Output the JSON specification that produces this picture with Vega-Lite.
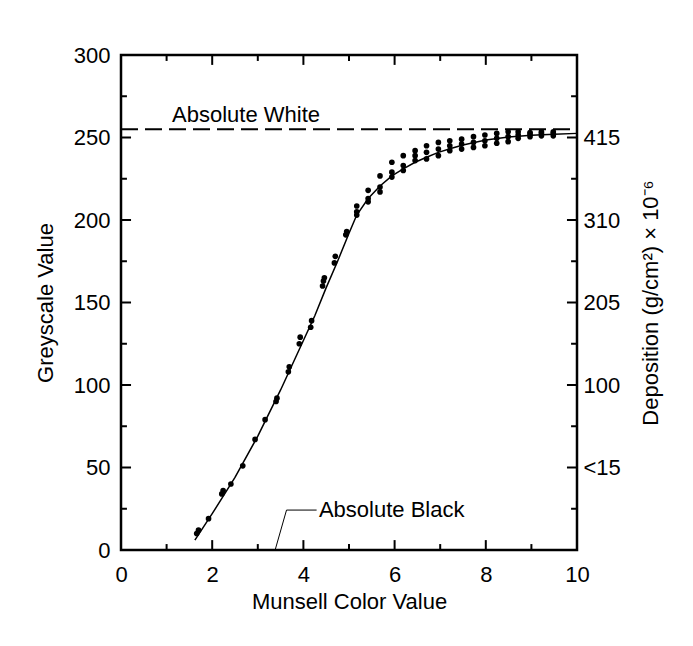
{
  "$schema": "https://vega.github.io/schema/vega-lite/v6.json",
  "width": 456,
  "height": 495,
  "autosize": {"type": "none"},
  "padding": {"left": 121, "top": 55, "right": 116, "bottom": 96},
  "background": "white",
  "config": {
    "view": {"stroke": "black", "strokeWidth": 2.5},
    "axis": {
      "domain": false,
      "grid": false,
      "ticks": false,
      "labelFont": "Liberation Sans",
      "labelFontSize": 22,
      "labelColor": "black",
      "titleFont": "Liberation Sans",
      "titleFontSize": 22,
      "titleFontWeight": "normal",
      "titleColor": "black",
      "labelFlush": false,
      "labelOverlap": false
    },
    "text": {"font": "Liberation Sans"}
  },
  "datasets": {
    "points": [
      {"x": 1.66, "y": 10}, {"x": 1.70, "y": 12},
      {"x": 1.92, "y": 19},
      {"x": 2.21, "y": 34}, {"x": 2.24, "y": 36},
      {"x": 2.41, "y": 40},
      {"x": 2.67, "y": 51},
      {"x": 2.94, "y": 67},
      {"x": 3.16, "y": 79},
      {"x": 3.40, "y": 90}, {"x": 3.42, "y": 92},
      {"x": 3.67, "y": 108}, {"x": 3.69, "y": 111},
      {"x": 3.91, "y": 125}, {"x": 3.93, "y": 129},
      {"x": 4.16, "y": 135}, {"x": 4.18, "y": 139},
      {"x": 4.42, "y": 160}, {"x": 4.44, "y": 163}, {"x": 4.46, "y": 165},
      {"x": 4.68, "y": 174}, {"x": 4.70, "y": 178},
      {"x": 4.93, "y": 191}, {"x": 4.95, "y": 193},
      {"x": 5.17, "y": 203}, {"x": 5.17, "y": 205}, {"x": 5.17, "y": 208.5},
      {"x": 5.42, "y": 211}, {"x": 5.42, "y": 213}, {"x": 5.42, "y": 218},
      {"x": 5.68, "y": 217}, {"x": 5.68, "y": 220}, {"x": 5.68, "y": 226.7},
      {"x": 5.94, "y": 226}, {"x": 5.94, "y": 229}, {"x": 5.94, "y": 235},
      {"x": 6.19, "y": 230}, {"x": 6.19, "y": 233}, {"x": 6.19, "y": 239},
      {"x": 6.45, "y": 236}, {"x": 6.45, "y": 239}, {"x": 6.45, "y": 242},
      {"x": 6.70, "y": 237}, {"x": 6.70, "y": 241}, {"x": 6.70, "y": 245},
      {"x": 6.96, "y": 239}, {"x": 6.96, "y": 243}, {"x": 6.96, "y": 247},
      {"x": 7.21, "y": 242}, {"x": 7.21, "y": 245}, {"x": 7.21, "y": 248},
      {"x": 7.47, "y": 243}, {"x": 7.47, "y": 246}, {"x": 7.47, "y": 249},
      {"x": 7.73, "y": 244}, {"x": 7.73, "y": 247}, {"x": 7.73, "y": 250.5},
      {"x": 7.98, "y": 245}, {"x": 7.98, "y": 248}, {"x": 7.98, "y": 251.5},
      {"x": 8.24, "y": 246.5}, {"x": 8.24, "y": 249.5}, {"x": 8.24, "y": 252.5},
      {"x": 8.49, "y": 247.5}, {"x": 8.49, "y": 250.5}, {"x": 8.49, "y": 253.5},
      {"x": 8.71, "y": 249.5}, {"x": 8.71, "y": 251.5}, {"x": 8.71, "y": 253.5},
      {"x": 8.97, "y": 250.5}, {"x": 8.97, "y": 252}, {"x": 8.97, "y": 253},
      {"x": 9.22, "y": 251}, {"x": 9.22, "y": 252.5}, {"x": 9.22, "y": 253.5},
      {"x": 9.48, "y": 251}, {"x": 9.48, "y": 252.5}, {"x": 9.48, "y": 253.5}
    ],
    "fit": [
      {"x": 1.62, "y": 6}, {"x": 2.0, "y": 22}, {"x": 2.5, "y": 44},
      {"x": 3.0, "y": 69}, {"x": 3.5, "y": 97}, {"x": 4.0, "y": 127},
      {"x": 4.25, "y": 142}, {"x": 4.5, "y": 159}, {"x": 4.75, "y": 175},
      {"x": 5.0, "y": 192}, {"x": 5.17, "y": 203}, {"x": 5.42, "y": 213},
      {"x": 5.68, "y": 220.6}, {"x": 5.94, "y": 226.7}, {"x": 6.19, "y": 231},
      {"x": 6.45, "y": 235}, {"x": 6.70, "y": 238}, {"x": 6.96, "y": 241},
      {"x": 7.25, "y": 243.5}, {"x": 7.5, "y": 245.5}, {"x": 8.0, "y": 248.5},
      {"x": 8.5, "y": 250.3}, {"x": 9.0, "y": 251.3}, {"x": 9.5, "y": 252},
      {"x": 10, "y": 252.5}
    ],
    "white": [{"label": "Absolute White", "x": 0, "x2": 10, "y": 255}],
    "notes": [
      {"label": "Absolute White", "x": 1.12, "y": 259.6},
      {"label": "Absolute Black", "x": 4.34, "y": 20}
    ],
    "leader": [
      {"x": 3.38, "y": 0}, {"x": 3.63, "y": 24.2}, {"x": 4.29, "y": 24.2}
    ],
    "xMajor": [{"v": 2}, {"v": 4}, {"v": 6}, {"v": 8}],
    "xMinor": [{"v": 1}, {"v": 3}, {"v": 5}, {"v": 7}, {"v": 9}],
    "yMajor": [{"v": 50}, {"v": 100}, {"v": 150}, {"v": 200}, {"v": 250}],
    "yMinor": [{"v": 25}, {"v": 75}, {"v": 125}, {"v": 175}, {"v": 225}, {"v": 275}]
  },
  "resolve": {
    "scale": {"x": "shared", "y": "shared"},
    "axis": {"x": "independent", "y": "independent"}
  },
  "layer": [
    {
      "data": {"name": "points"},
      "mark": {"type": "circle", "size": 32, "color": "black", "opacity": 1},
      "encoding": {
        "x": {
          "field": "x", "type": "quantitative",
          "scale": {"domain": [0, 10], "nice": false},
          "axis": {"orient": "bottom", "values": [0, 2, 4, 6, 8, 10], "labelPadding": 14, "title": "Munsell Color Value", "titlePadding": 6}
        },
        "y": {
          "field": "y", "type": "quantitative",
          "scale": {"domain": [0, 300], "nice": false},
          "axis": {"orient": "left", "values": [0, 50, 100, 150, 200, 250, 300], "labelPadding": 11, "title": "Greyscale Value", "titlePadding": 16}
        }
      }
    },
    {
      "data": {"name": "fit"},
      "mark": {"type": "line", "color": "black", "strokeWidth": 1.5},
      "encoding": {
        "x": {"field": "x", "type": "quantitative", "scale": {"domain": [0, 10], "nice": false}, "axis": null},
        "y": {"field": "y", "type": "quantitative", "scale": {"domain": [0, 300], "nice": false}, "axis": null}
      }
    },
    {
      "data": {"name": "white"},
      "mark": {"type": "rule", "color": "black", "strokeWidth": 2, "strokeDash": [17, 7]},
      "encoding": {
        "x": {"field": "x", "type": "quantitative", "scale": {"domain": [0, 10], "nice": false}, "axis": null},
        "x2": {"field": "x2"},
        "y": {
          "field": "y", "type": "quantitative",
          "scale": {"domain": [0, 300], "nice": false},
          "axis": {
            "orient": "right", "values": [50, 100, 150, 200, 250], "labelPadding": 6,
            "labelExpr": "datum.value == 50 ? '<15' : datum.value == 100 ? '100' : datum.value == 150 ? '205' : datum.value == 200 ? '310' : '415'",
            "title": "Deposition (g/cm²) × 10⁻⁶", "titleAngle": 270, "titleBaseline": "top", "titlePadding": 20
          }
        }
      }
    },
    {
      "data": {"name": "notes"},
      "mark": {"type": "text", "align": "left", "baseline": "alphabetic", "fontSize": 22, "color": "black", "font": "Liberation Sans"},
      "encoding": {
        "x": {"field": "x", "type": "quantitative", "scale": {"domain": [0, 10], "nice": false}, "axis": null},
        "y": {"field": "y", "type": "quantitative", "scale": {"domain": [0, 300], "nice": false}, "axis": null},
        "text": {"field": "label"}
      }
    },
    {
      "data": {"name": "leader"},
      "mark": {"type": "line", "color": "black", "strokeWidth": 1},
      "encoding": {
        "x": {"field": "x", "type": "quantitative", "scale": {"domain": [0, 10], "nice": false}, "axis": null},
        "y": {"field": "y", "type": "quantitative", "scale": {"domain": [0, 300], "nice": false}, "axis": null}
      }
    },
    {
      "data": {"name": "xMajor"},
      "mark": {"type": "rule", "color": "black", "strokeWidth": 2},
      "encoding": {
        "x": {"field": "v", "type": "quantitative", "scale": {"domain": [0, 10], "nice": false}, "axis": null},
        "y": {"datum": 0, "type": "quantitative", "scale": {"domain": [0, 300], "nice": false}, "axis": null},
        "y2": {"datum": 6}
      }
    },
    {
      "data": {"name": "xMajor"},
      "mark": {"type": "rule", "color": "black", "strokeWidth": 2},
      "encoding": {
        "x": {"field": "v", "type": "quantitative", "scale": {"domain": [0, 10], "nice": false}, "axis": null},
        "y": {"datum": 300, "type": "quantitative", "scale": {"domain": [0, 300], "nice": false}, "axis": null},
        "y2": {"datum": 294}
      }
    },
    {
      "data": {"name": "xMinor"},
      "mark": {"type": "rule", "color": "black", "strokeWidth": 2},
      "encoding": {
        "x": {"field": "v", "type": "quantitative", "scale": {"domain": [0, 10], "nice": false}, "axis": null},
        "y": {"datum": 0, "type": "quantitative", "scale": {"domain": [0, 300], "nice": false}, "axis": null},
        "y2": {"datum": 3.6}
      }
    },
    {
      "data": {"name": "xMinor"},
      "mark": {"type": "rule", "color": "black", "strokeWidth": 2},
      "encoding": {
        "x": {"field": "v", "type": "quantitative", "scale": {"domain": [0, 10], "nice": false}, "axis": null},
        "y": {"datum": 300, "type": "quantitative", "scale": {"domain": [0, 300], "nice": false}, "axis": null},
        "y2": {"datum": 296.4}
      }
    },
    {
      "data": {"name": "yMajor"},
      "mark": {"type": "rule", "color": "black", "strokeWidth": 2},
      "encoding": {
        "y": {"field": "v", "type": "quantitative", "scale": {"domain": [0, 300], "nice": false}, "axis": null},
        "x": {"datum": 0, "type": "quantitative", "scale": {"domain": [0, 10], "nice": false}, "axis": null},
        "x2": {"datum": 0.22}
      }
    },
    {
      "data": {"name": "yMajor"},
      "mark": {"type": "rule", "color": "black", "strokeWidth": 2},
      "encoding": {
        "y": {"field": "v", "type": "quantitative", "scale": {"domain": [0, 300], "nice": false}, "axis": null},
        "x": {"datum": 10, "type": "quantitative", "scale": {"domain": [0, 10], "nice": false}, "axis": null},
        "x2": {"datum": 9.78}
      }
    },
    {
      "data": {"name": "yMinor"},
      "mark": {"type": "rule", "color": "black", "strokeWidth": 2},
      "encoding": {
        "y": {"field": "v", "type": "quantitative", "scale": {"domain": [0, 300], "nice": false}, "axis": null},
        "x": {"datum": 0, "type": "quantitative", "scale": {"domain": [0, 10], "nice": false}, "axis": null},
        "x2": {"datum": 0.13}
      }
    },
    {
      "data": {"name": "yMinor"},
      "mark": {"type": "rule", "color": "black", "strokeWidth": 2},
      "encoding": {
        "y": {"field": "v", "type": "quantitative", "scale": {"domain": [0, 300], "nice": false}, "axis": null},
        "x": {"datum": 10, "type": "quantitative", "scale": {"domain": [0, 10], "nice": false}, "axis": null},
        "x2": {"datum": 9.87}
      }
    }
  ]
}
